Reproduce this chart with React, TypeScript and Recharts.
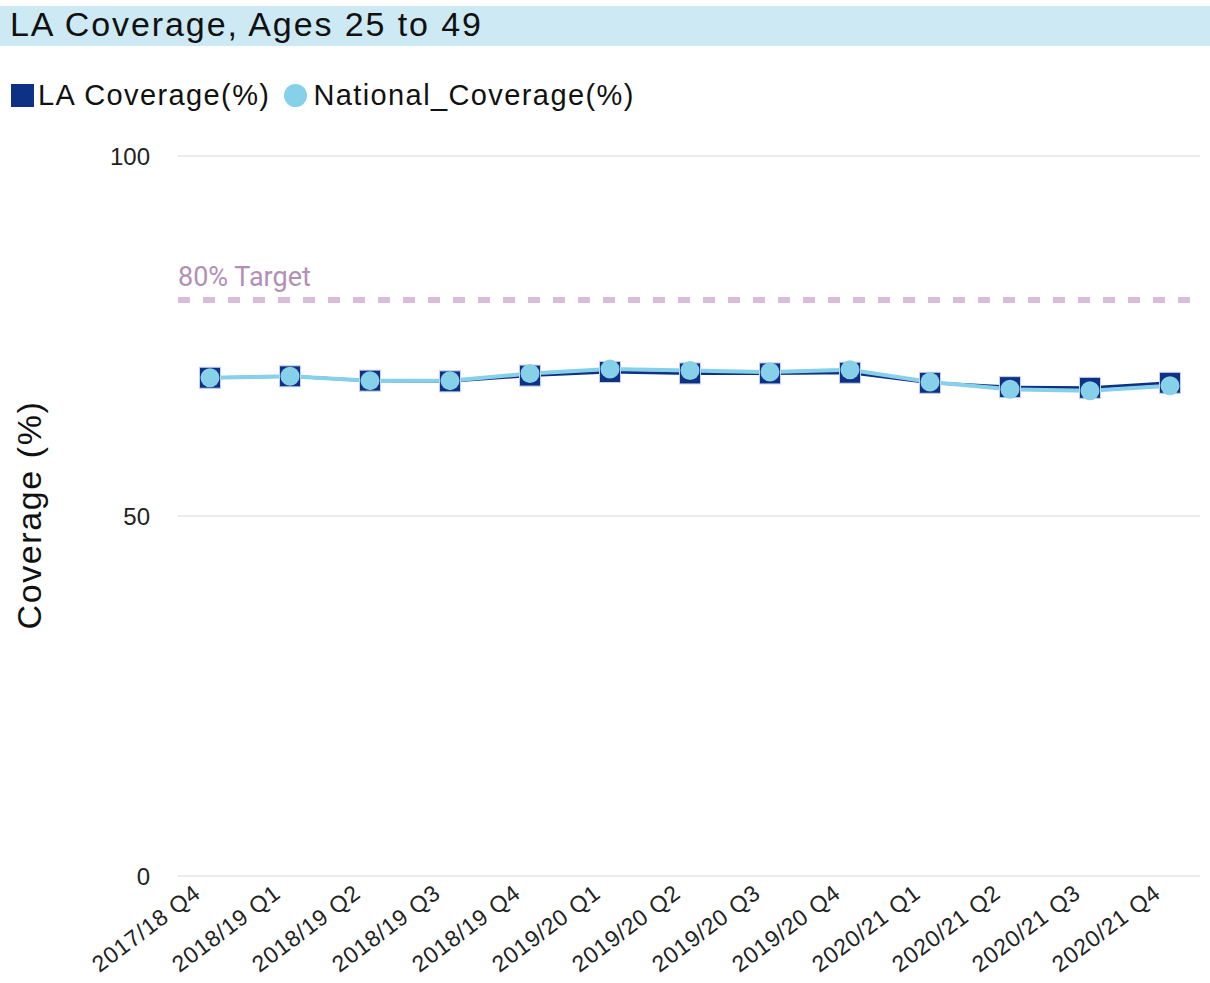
import React from "react";
import {
  LineChart, Line, XAxis, YAxis, CartesianGrid, ReferenceLine,
} from "recharts";

// ─────────────────────────────────────────
// Data
// ─────────────────────────────────────────
const quarters = [
  "2017/18 Q4", "2018/19 Q1", "2018/19 Q2", "2018/19 Q3", "2018/19 Q4",
  "2019/20 Q1", "2019/20 Q2", "2019/20 Q3", "2019/20 Q4",
  "2020/21 Q1", "2020/21 Q2", "2020/21 Q3", "2020/21 Q4",
];
const laCoverage = [69.2, 69.4, 68.8, 68.7, 69.5, 70.0, 69.8, 69.8, 69.9, 68.5, 67.9, 67.8, 68.5];
const nationalCoverage = [69.2, 69.4, 68.8, 68.8, 69.8, 70.4, 70.2, 70.0, 70.3, 68.6, 67.6, 67.4, 68.1];
const yTicks = [0, 50, 100];
const TARGET = 80;

const data = quarters.map((q, i) => ({
  quarter: q,
  la: laCoverage[i],
  national: nationalCoverage[i],
}));

// ─────────────────────────────────────────
// Styles
// ─────────────────────────────────────────
const FONT = "'Liberation Sans', Arial, sans-serif";
const NAVY = "#0d3185";
const LIGHT = "#86d0ea";

function SquareDot(props: any) {
  const { cx, cy } = props;
  if (cx == null || cy == null) return null;
  return <rect x={cx - 10.5} y={cy - 10.5} width={21} height={21} fill={NAVY} stroke="#c9cfe6" strokeWidth={1} />;
}

function CircleDot(props: any) {
  const { cx, cy } = props;
  if (cx == null || cy == null) return null;
  return <circle cx={cx} cy={cy} r={9.5} fill={LIGHT} />;
}

function XTick(props: any) {
  const { x, y, payload } = props;
  const tx = x - 8;
  const ty = y + 12;
  return (
    <text
      x={tx} y={ty}
      transform={`rotate(-37, ${tx}, ${ty})`}
      textAnchor="end"
      fontSize={23}
      letterSpacing={0.8}
      fontFamily={FONT}
      fill="#222"
    >
      {payload.value}
    </text>
  );
}

export default function App() {
  return (
    <div style={{ position: "absolute", left: 0, top: 0, width: 1210, height: 983, background: "#fff", fontFamily: FONT }}>

      {/* Title bar */}
      <div style={{
        position: "absolute", left: 0, top: 6, width: 1210, height: 40,
        background: "#cdeaf4",
      }}>
        <div style={{ position: "absolute", left: 10, top: -1, fontSize: 34, letterSpacing: 1.9, color: "#111", whiteSpace: "nowrap" }}>
          LA Coverage, Ages 25 to 49
        </div>
      </div>

      {/* Legend */}
      <div style={{ position: "absolute", left: 11, top: 79, display: "flex", alignItems: "center", fontSize: 29, letterSpacing: 1.4, color: "#111", whiteSpace: "nowrap" }}>
        <span style={{ width: 23, height: 23, background: NAVY, display: "inline-block", marginRight: 4 }} />
        <span style={{ marginRight: 14 }}>LA Coverage(%)</span>
        <span style={{ width: 23, height: 23, borderRadius: "50%", background: LIGHT, display: "inline-block", marginRight: 6 }} />
        <span>National_Coverage(%)</span>
      </div>

      {/* Axis title */}
      <div style={{
        position: "absolute", left: 29, top: 515, transform: "translate(-50%, -50%) rotate(-90deg)",
        fontSize: 34, letterSpacing: 1.6, color: "#111", whiteSpace: "nowrap",
      }}>
        Coverage (%)
      </div>

      <div style={{ position: "absolute", left: 0, top: 0 }}>
        <LineChart
          width={1210}
          height={983}
          data={data}
          margin={{ top: 156, right: 10, bottom: 0, left: 0 }}
        >
          <CartesianGrid stroke="#e6e6e6" strokeWidth={1.5} vertical={false} />
          <XAxis
            dataKey="quarter"
            axisLine={false}
            tickLine={false}
            interval={0}
            padding={{ left: 32, right: 30 }}
            tick={<XTick />}
            height={107}
          />
          <YAxis
            domain={[0, 100]}
            ticks={yTicks}
            width={178}
            axisLine={false}
            tickLine={false}
            tickSize={0}
            tickMargin={28}
            tick={{ fontSize: 24, fill: "#222", fontFamily: FONT }}
          />
          <ReferenceLine
            y={TARGET}
            stroke="#d7bdd7"
            strokeWidth={6}
            strokeDasharray="12 13"
            label={{
              value: "80% Target",
              position: "insideBottomLeft",
              fill: "#b28fb4",
              fontSize: 27,
              fontFamily: "Roboto, sans-serif",
              offset: 14,
              dx: -14,
            }}
          />
          <Line
            dataKey="la"
            stroke={NAVY}
            strokeWidth={3}
            dot={<SquareDot />}
            activeDot={false}
            isAnimationActive={false}
          />
          <Line
            dataKey="national"
            stroke={LIGHT}
            strokeWidth={4}
            dot={<CircleDot />}
            activeDot={false}
            isAnimationActive={false}
          />
        </LineChart>
      </div>
    </div>
  );
}
